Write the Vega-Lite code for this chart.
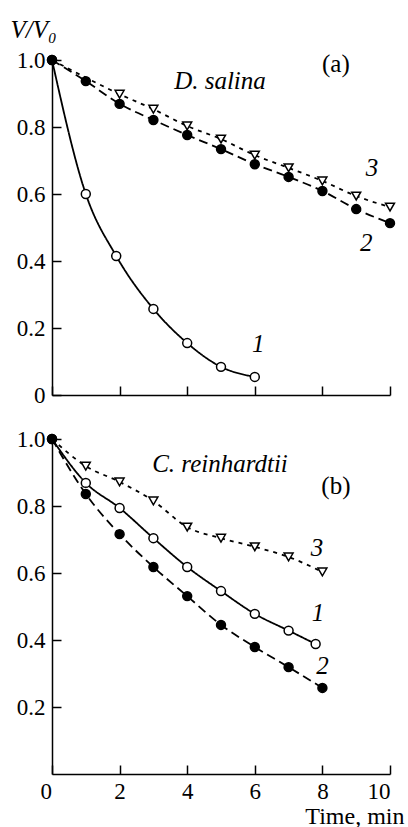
{
 "$schema": "https://vega.github.io/schema/vega-lite/v6.json",
 "padding": {"left": 10, "top": 17, "right": 4, "bottom": 0},
 "bounds": "flush",
 "spacing": 44,
 "background": "white",
 "config": {
  "view": {"stroke": null},
  "font": "Liberation Serif",
  "axis": {"domainColor": "black", "domainWidth": 1.5, "tickColor": "black", "tickWidth": 1.5, "tickSize": -9, "labelFont": "Liberation Serif", "labelFontSize": 23, "labelColor": "black", "grid": false, "titleFont": "Liberation Serif", "titleColor": "black", "titleFontWeight": "normal"}
 },
 "datasets": {
  "curves": [
   {"p": "a", "s": "3", "t": 0, "v": 1.0},
   {"p": "a", "s": "3", "t": 2, "v": 0.898},
   {"p": "a", "s": "3", "t": 3, "v": 0.853},
   {"p": "a", "s": "3", "t": 4, "v": 0.803},
   {"p": "a", "s": "3", "t": 5, "v": 0.764},
   {"p": "a", "s": "3", "t": 6, "v": 0.716},
   {"p": "a", "s": "3", "t": 7, "v": 0.678},
   {"p": "a", "s": "3", "t": 8, "v": 0.639},
   {"p": "a", "s": "3", "t": 9, "v": 0.594},
   {"p": "a", "s": "3", "t": 10, "v": 0.561},
   {"p": "a", "s": "1", "t": 0, "v": 1.0},
   {"p": "a", "s": "1", "t": 1, "v": 0.60},
   {"p": "a", "s": "1", "t": 1.9, "v": 0.415},
   {"p": "a", "s": "1", "t": 3, "v": 0.257},
   {"p": "a", "s": "1", "t": 4, "v": 0.155},
   {"p": "a", "s": "1", "t": 5, "v": 0.084},
   {"p": "a", "s": "1", "t": 6, "v": 0.054},
   {"p": "a", "s": "2", "t": 0, "v": 1.0},
   {"p": "a", "s": "2", "t": 1, "v": 0.937},
   {"p": "a", "s": "2", "t": 2, "v": 0.869},
   {"p": "a", "s": "2", "t": 3, "v": 0.821},
   {"p": "a", "s": "2", "t": 4, "v": 0.776},
   {"p": "a", "s": "2", "t": 5, "v": 0.734},
   {"p": "a", "s": "2", "t": 6, "v": 0.689},
   {"p": "a", "s": "2", "t": 7, "v": 0.651},
   {"p": "a", "s": "2", "t": 8, "v": 0.609},
   {"p": "a", "s": "2", "t": 9, "v": 0.555},
   {"p": "a", "s": "2", "t": 10, "v": 0.513},
   {"p": "b", "s": "3", "t": 0, "v": 1.0},
   {"p": "b", "s": "3", "t": 1, "v": 0.919},
   {"p": "b", "s": "3", "t": 2, "v": 0.872},
   {"p": "b", "s": "3", "t": 3, "v": 0.815},
   {"p": "b", "s": "3", "t": 4, "v": 0.737},
   {"p": "b", "s": "3", "t": 5, "v": 0.704},
   {"p": "b", "s": "3", "t": 6, "v": 0.678},
   {"p": "b", "s": "3", "t": 7, "v": 0.648},
   {"p": "b", "s": "3", "t": 8, "v": 0.603},
   {"p": "b", "s": "1", "t": 0, "v": 1.0},
   {"p": "b", "s": "1", "t": 1, "v": 0.869},
   {"p": "b", "s": "1", "t": 2, "v": 0.794},
   {"p": "b", "s": "1", "t": 3, "v": 0.704},
   {"p": "b", "s": "1", "t": 4, "v": 0.618},
   {"p": "b", "s": "1", "t": 5, "v": 0.546},
   {"p": "b", "s": "1", "t": 6, "v": 0.478},
   {"p": "b", "s": "1", "t": 7, "v": 0.428},
   {"p": "b", "s": "1", "t": 7.8, "v": 0.388},
   {"p": "b", "s": "2", "t": 0, "v": 1.0},
   {"p": "b", "s": "2", "t": 1, "v": 0.836},
   {"p": "b", "s": "2", "t": 2, "v": 0.716},
   {"p": "b", "s": "2", "t": 3, "v": 0.618},
   {"p": "b", "s": "2", "t": 4, "v": 0.531},
   {"p": "b", "s": "2", "t": 5, "v": 0.445},
   {"p": "b", "s": "2", "t": 6, "v": 0.379},
   {"p": "b", "s": "2", "t": 7, "v": 0.319},
   {"p": "b", "s": "2", "t": 8, "v": 0.257}
  ],
  "labels": [
   {"p": "a", "kind": "italic", "t": 4.97, "v": 0.937, "text": "D. salina"},
   {"p": "a", "kind": "normal", "t": 8.4, "v": 0.988, "text": "(a)"},
   {"p": "a", "kind": "italic", "t": 9.47, "v": 0.678, "text": "3"},
   {"p": "a", "kind": "italic", "t": 9.3, "v": 0.455, "text": "2"},
   {"p": "a", "kind": "italic", "t": 6.1, "v": 0.152, "text": "1"},
   {"p": "b", "kind": "italic", "t": 4.97, "v": 0.925, "text": "C. reinhardtii"},
   {"p": "b", "kind": "normal", "t": 8.4, "v": 0.86, "text": "(b)"},
   {"p": "b", "kind": "italic", "t": 7.84, "v": 0.675, "text": "3"},
   {"p": "b", "kind": "italic", "t": 7.87, "v": 0.48, "text": "1"},
   {"p": "b", "kind": "italic", "t": 8.0, "v": 0.322, "text": "2"}
  ]
 },
 "vconcat": [
  {
   "width": 338, "height": 335,
   "encoding": {
    "x": {"field": "t", "type": "quantitative", "scale": {"domain": [0, 10], "nice": false},
          "axis": {"values": [0, 2, 4, 6, 8, 10], "labels": false, "title": null}},
    "y": {"field": "v", "type": "quantitative", "scale": {"domain": [0, 1], "nice": false},
          "axis": {"values": [0, 0.2, 0.4, 0.6, 0.8, 1.0], "labelExpr": "datum.value == 0 ? '0' : format(datum.value, '.1f')", "labelPadding": 16,
                   "title": "V/V₀", "titleAngle": 0, "titleAlign": "left", "titleBaseline": "middle", "titleX": -42, "titleY": -31, "titleFontSize": 25, "titleFontStyle": "italic"}}
   },
   "layer": [
    {"data": {"name": "curves"}, "transform": [{"filter": "datum.p == 'a'"}],
     "mark": {"type": "line", "interpolate": "monotone", "color": "black", "strokeWidth": 1.8, "clip": false},
     "encoding": {"detail": {"field": "s"}, "strokeDash": {"field": "s", "type": "nominal", "scale": {"domain": ["1", "2", "3"], "range": [[1, 0], [9, 5], [4, 5]]}, "legend": null}}},
    {"data": {"name": "curves"}, "transform": [{"filter": "datum.p == 'a' && (datum.s != '3' || datum.t > 0)"}],
     "mark": {"type": "point", "filled": true, "stroke": "black", "strokeWidth": 1.5, "opacity": 1, "size": 80, "clip": false},
     "encoding": {"shape": {"field": "s", "type": "nominal", "scale": {"domain": ["1", "2", "3"], "range": ["circle", "circle", "triangle-down"]}, "legend": null},
                  "fill": {"field": "s", "type": "nominal", "scale": {"domain": ["1", "2", "3"], "range": ["white", "black", "white"]}, "legend": null}}},
    {"data": {"name": "labels"}, "transform": [{"filter": "datum.p == 'a' && datum.kind == 'italic'"}],
     "mark": {"type": "text", "font": "Liberation Serif", "fontSize": 25, "fontStyle": "italic", "color": "black", "align": "center", "baseline": "middle"},
     "encoding": {"text": {"field": "text"}}},
    {"data": {"name": "labels"}, "transform": [{"filter": "datum.p == 'a' && datum.kind == 'normal'"}],
     "mark": {"type": "text", "font": "Liberation Serif", "fontSize": 25, "color": "black", "align": "center", "baseline": "middle"},
     "encoding": {"text": {"field": "text"}}}
   ]
  },
  {
   "width": 338, "height": 335,
   "encoding": {
    "x": {"field": "t", "type": "quantitative", "scale": {"domain": [0, 10], "nice": false},
          "axis": {"values": [0, 2, 4, 6, 8, 10], "labelPadding": 15, "format": "d",
                   "labelOffset": {"condition": {"test": "datum.value == 0", "value": -12}, "value": 0},
                   "title": "Time, min", "titleAlign": "right", "titleBaseline": "middle", "titleX": 352, "titleY": 42, "titleFontSize": 24}},
    "y": {"field": "v", "type": "quantitative", "scale": {"domain": [0, 1], "nice": false},
          "axis": {"values": [0.2, 0.4, 0.6, 0.8, 1.0], "format": ".1f", "labelPadding": 16, "title": null}}
   },
   "layer": [
    {"data": {"name": "curves"}, "transform": [{"filter": "datum.p == 'b'"}],
     "mark": {"type": "line", "interpolate": "monotone", "color": "black", "strokeWidth": 1.8, "clip": false},
     "encoding": {"detail": {"field": "s"}, "strokeDash": {"field": "s", "type": "nominal", "scale": {"domain": ["1", "2", "3"], "range": [[1, 0], [9, 5], [4, 5]]}, "legend": null}}},
    {"data": {"name": "curves"}, "transform": [{"filter": "datum.p == 'b' && (datum.s != '3' || datum.t > 0)"}],
     "mark": {"type": "point", "filled": true, "stroke": "black", "strokeWidth": 1.5, "opacity": 1, "size": 80, "clip": false},
     "encoding": {"shape": {"field": "s", "type": "nominal", "scale": {"domain": ["1", "2", "3"], "range": ["circle", "circle", "triangle-down"]}, "legend": null},
                  "fill": {"field": "s", "type": "nominal", "scale": {"domain": ["1", "2", "3"], "range": ["white", "black", "white"]}, "legend": null}}},
    {"data": {"name": "labels"}, "transform": [{"filter": "datum.p == 'b' && datum.kind == 'italic'"}],
     "mark": {"type": "text", "font": "Liberation Serif", "fontSize": 25, "fontStyle": "italic", "color": "black", "align": "center", "baseline": "middle"},
     "encoding": {"text": {"field": "text"}}},
    {"data": {"name": "labels"}, "transform": [{"filter": "datum.p == 'b' && datum.kind == 'normal'"}],
     "mark": {"type": "text", "font": "Liberation Serif", "fontSize": 25, "color": "black", "align": "center", "baseline": "middle"},
     "encoding": {"text": {"field": "text"}}}
   ]
  }
 ]
}
